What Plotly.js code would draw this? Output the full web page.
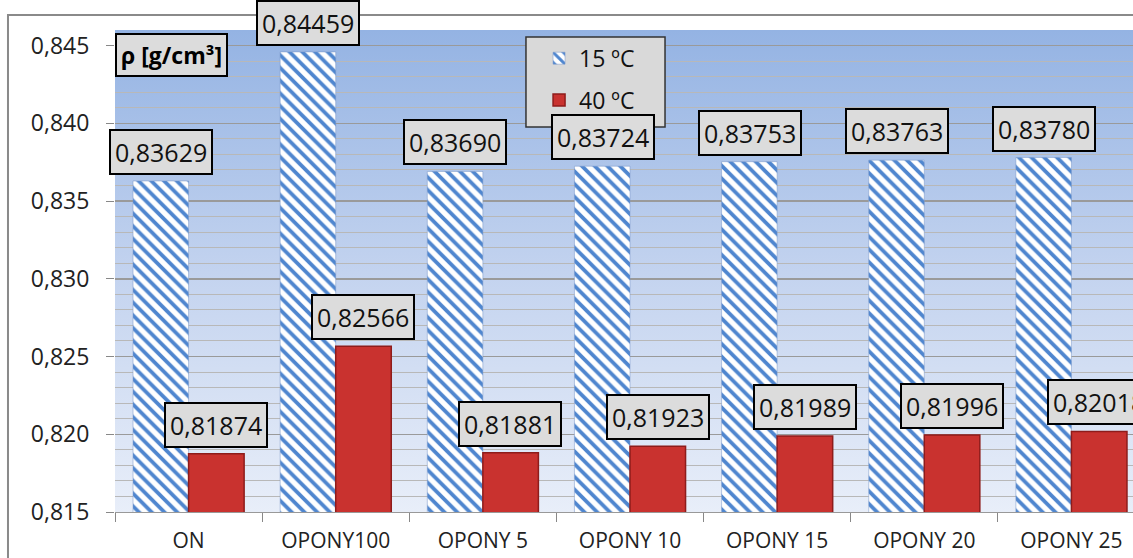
<!DOCTYPE html>
<html>
<head>
<meta charset="utf-8">
<script src="https://cdn.plot.ly/plotly-3.0.1.min.js"></script>
<style>
html,body{margin:0;padding:0;overflow:hidden;background:#fff;}
#chart{width:1145px;height:558px;}
</style>
</head>
<body>
<div id="chart"></div>
<script>
const categories = ["ON", "OPONY100", "OPONY 5", "OPONY 10", "OPONY 15", "OPONY 20", "OPONY 25"];
const seriesNames = ["15 ºC", "40 ºC"];
const values15 = [0.83629, 0.84459, 0.83690, 0.83724, 0.83753, 0.83763, 0.83780];
const values40 = [0.81874, 0.82566, 0.81881, 0.81923, 0.81989, 0.81996, 0.82018];
const yTickVals = [0.815, 0.820, 0.825, 0.830, 0.835, 0.840, 0.845];
const yLabel = "ρ [g/cm³]";

const FONT = "Open Sans, Lato, sans-serif";
const fmt = v => v.toFixed(5).replace('.', ',');

const traces = [
  {
    type: 'bar', name: seriesNames[0], x: categories, y: values15,
    legendgroup: 'a',
    marker: {
      color: '#ffffff',
      pattern: {shape: '\\', fgcolor: '#4f86cf', bgcolor: '#ffffff', size: 9, solidity: 0.42},
      line: {color: 'rgba(120,150,200,0.5)', width: 1}
    },
    hoverinfo: 'skip'
  },
  {
    type: 'bar', name: seriesNames[1], x: categories, y: values40,
    legendgroup: 'b',
    marker: {color: '#c9322f', line: {color: '#8e1c1b', width: 1.5}},
    hoverinfo: 'skip'
  }
];

const annotations = [];
const shiftPx = 27.5;
const labelStyle = {
  showarrow: false, yshift: 6, yanchor: 'bottom', xref: 'x', yref: 'y',
  font: {family: FONT, size: 25, color: '#111'},
  bgcolor: '#dcdcdc', bordercolor: '#000', borderwidth: 2, borderpad: 4
};
categories.forEach((c, i) => {
  annotations.push(Object.assign({}, labelStyle, {x: c, y: values15[i], text: fmt(values15[i]), xshift: -shiftPx}));
  annotations.push(Object.assign({}, labelStyle, {x: c, y: values40[i], text: fmt(values40[i]), xshift: shiftPx}));
});
annotations.push({
  xref: 'paper', yref: 'paper', x: 0, y: 0.948, xanchor: 'left', yanchor: 'middle',
  text: '<b>' + yLabel + '</b>', showarrow: false,
  font: {family: FONT, size: 23, color: '#000'},
  bgcolor: '#dcdcdc', bordercolor: '#000', borderwidth: 2, borderpad: 4
});

const gradSvg = "<svg xmlns='http://www.w3.org/2000/svg' width='10' height='100' preserveAspectRatio='none'>" +
  "<defs><linearGradient id='g' x1='0' y1='0' x2='0' y2='1'>" +
  "<stop offset='0' stop-color='#94b3e3'/><stop offset='0.5' stop-color='#c3d3ef'/><stop offset='1' stop-color='#e8eef9'/>" +
  "</linearGradient></defs><rect width='10' height='100' fill='url(#g)'/></svg>";

const layout = {
  width: 1145, height: 558,
  margin: {l: 115, r: 0, t: 30, b: 46},
  paper_bgcolor: '#ffffff',
  plot_bgcolor: 'rgba(0,0,0,0)',
  separators: ',.',
  barmode: 'group', bargap: 0.245, bargroupgap: 0,
  font: {family: FONT, color: '#222'},
  xaxis: {
    type: 'category', range: [-0.5, categories.length - 0.5],
    tickson: 'boundaries', ticks: 'outside', ticklen: 9, tickcolor: '#888',
    tickfont: {family: FONT, size: 21, color: '#222'}, ticklabelstandoff: 10,
    showgrid: false, showline: true, linecolor: '#999', linewidth: 1, zeroline: false,
    automargin: false
  },
  yaxis: {
    range: [0.815, 0.846], tickvals: yTickVals, tickformat: '.3f',
    ticks: 'outside', ticklen: 8, tickcolor: '#888', ticklabelstandoff: 12,
    tickfont: {family: FONT, size: 23, color: '#222'},
    showgrid: true, gridcolor: '#9a9a9a', gridwidth: 1.5,
    minor: {dtick: 0.001, tick0: 0.815, showgrid: true, gridcolor: '#b8b8b8', gridwidth: 1, ticks: ''},
    showline: false, zeroline: false, automargin: false
  },
  legend: {
    x: 0.4117, y: 0.986, xanchor: 'left', yanchor: 'top',
    bgcolor: 'rgba(0,0,0,0)', borderwidth: 0,
    font: {family: FONT, size: 23, color: '#111'},
    traceorder: 'grouped', tracegroupgap: 9, itemwidth: 30
  },
  images: [{
    source: 'data:image/svg+xml;utf8,' + encodeURIComponent(gradSvg),
    xref: 'paper', yref: 'paper', x: 0, y: 1, sizex: 1, sizey: 1,
    sizing: 'stretch', xanchor: 'left', yanchor: 'top', layer: 'below'
  }],
  shapes: [
    {
      type: 'rect', xref: 'paper', yref: 'paper',
      x0: -0.1039, x1: 1.1, y0: -0.3, y1: 1.031,
      line: {color: '#8a8a8a', width: 2}, fillcolor: 'rgba(0,0,0,0)', layer: 'above'
    },
    {
      type: 'rect', xref: 'paper', yref: 'paper',
      x0: 0.399, x1: 0.534, y0: 0.799, y1: 0.9855,
      line: {color: '#333', width: 1.5}, fillcolor: '#d9d9d9', layer: 'above'
    }
  ],
  annotations: annotations,
  showlegend: true
};

Plotly.newPlot('chart', traces, layout, {displayModeBar: false, staticPlot: true});
</script>
</body>
</html>
